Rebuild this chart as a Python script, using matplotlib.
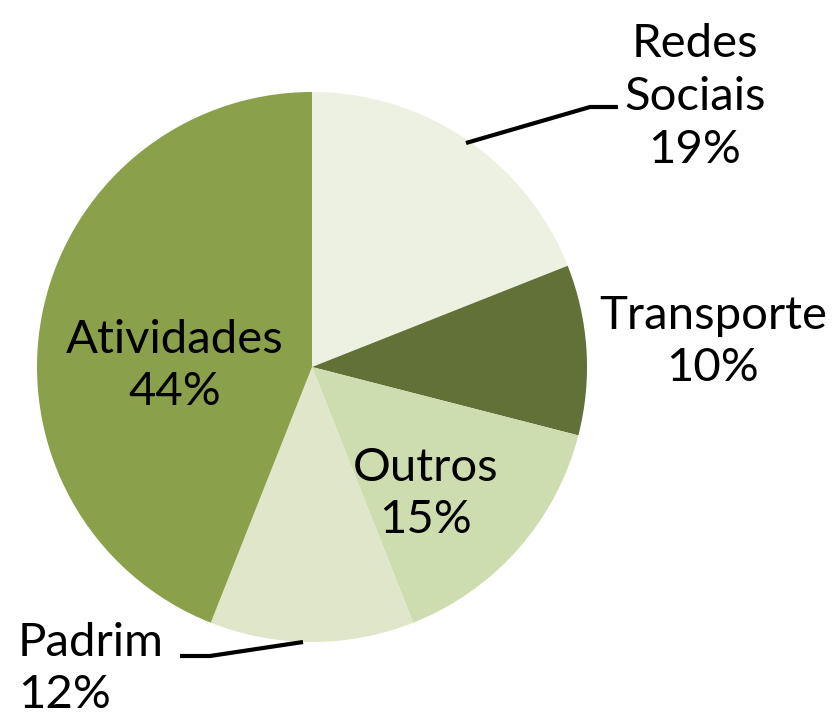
import matplotlib.pyplot as plt

# dados
categorias = ['Redes\nSociais', 'Transporte', 'Outros', 'Padrim', 'Atividades']
valores = [19, 10, 15, 12, 44]
cores = ['#EDF1E2', '#627137', '#CEDDB0', '#DFE6C9', '#8AA04A']

plt.rcParams['font.family'] = ['Lato', 'DejaVu Sans']

W, H = 833, 720
fig = plt.figure(figsize=(W / 100, H / 100), dpi=100)
ax = fig.add_axes([0, 0, 1, 1])

cx, cy, r = 312, H - 367, 275
ax.pie(valores, colors=cores, startangle=90, counterclock=False,
       center=(cx, cy), radius=r, frame=True,
       wedgeprops=dict(linewidth=0))
ax.set_xlim(0, W)
ax.set_ylim(0, H)
ax.set_aspect('equal')
ax.axis('off')

rotulos = [f'{c}\n{v}%' for c, v in zip(categorias, valores)]
fs = 34
# posições dos rótulos (em pixels da figura)
pos = [(695, 97, 'center'), (713, 342, 'center'), (426, 494, 'center'),
       (18, 669, 'left'), (175, 366, 'center')]
for txt, (x, y, ha) in zip(rotulos, pos):
    ax.text(x, H - y, txt, fontsize=fs, ha=ha, va='center',
            multialignment=ha, linespacing=1.32, color='black')

# linhas de chamada
ax.plot([466, 590, 618], [H - 143, H - 107, H - 107], color='black', lw=3,
        solid_capstyle='butt')
ax.plot([303, 210, 180], [H - 642, H - 656, H - 656], color='black', lw=3,
        solid_capstyle='butt')

plt.savefig('out.png', dpi=100)
